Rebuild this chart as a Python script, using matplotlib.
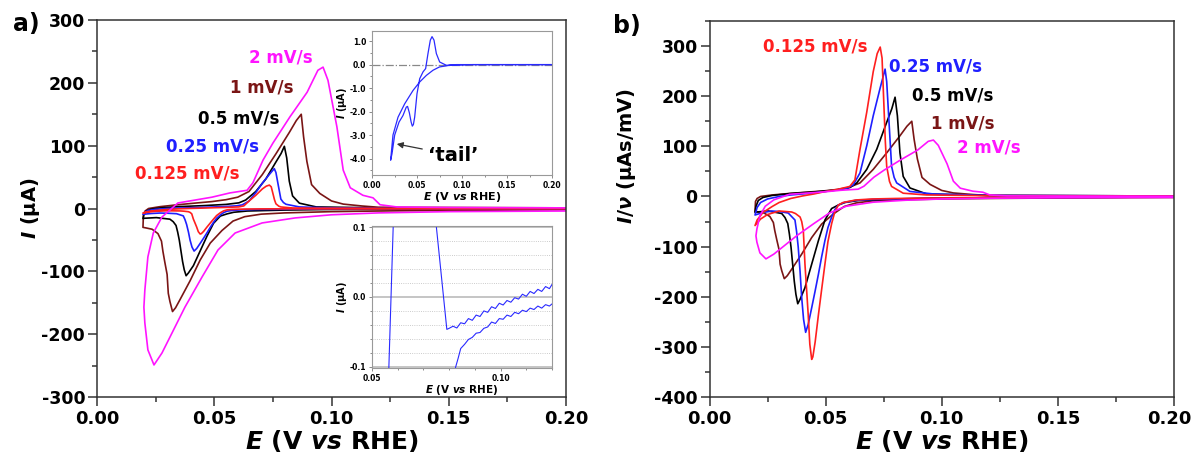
import matplotlib
matplotlib.use("Agg")
import matplotlib.pyplot as plt
import matplotlib.transforms as mtransforms
from matplotlib.ticker import MultipleLocator

plt.rcParams['font.family'] = 'DejaVu Sans'
plt.rcParams['font.weight'] = 'bold'
plt.rcParams['axes.labelweight'] = 'bold'
plt.rcParams['axes.unicode_minus'] = False
plt.rcParams['mathtext.fontset'] = 'custom'
plt.rcParams['mathtext.it'] = 'DejaVu Sans:bold:italic'
plt.rcParams['mathtext.rm'] = 'DejaVu Sans:bold'
plt.rcParams['mathtext.bf'] = 'DejaVu Sans:bold'

# scan rates (mV/s) and styling per sweep
RATES = [0.125, 0.25, 0.5, 1.0, 2.0]
LABELS = ["0.125 mV/s", "0.25 mV/s", "0.5 mV/s", "1 mV/s", "2 mV/s"]
COLORS = ["#ff1f1f", "#1f1fff", "#000000", "#7a1515", "#ff14ff"]

# potential (V vs RHE) and rate-normalised current I/v (uAs/mV)
E_0125 = [0.200, 0.150, 0.100, 0.080, 0.070, 0.063, 0.0575, 0.0555, 0.054, 0.0526, 0.051,
          0.0497, 0.0483, 0.0469, 0.0455, 0.0445, 0.0440, 0.0432, 0.0425, 0.0418, 0.0411,
          0.0404, 0.0397, 0.039, 0.037, 0.0354, 0.030, 0.025, 0.022, 0.0196,
          0.0205, 0.023, 0.027, 0.030, 0.035, 0.040, 0.045, 0.050, 0.055, 0.0604, 0.0626,
          0.0648, 0.0677, 0.0705, 0.0722, 0.0735, 0.0743, 0.0751, 0.0757, 0.0763, 0.0775,
          0.0784, 0.0834, 0.0935, 0.120, 0.200]
Q_0125 = [-1, -2, -3, -4, -5, -7, -12, -17, -30, -54, -90,
          -135, -185, -236, -290, -320, -325, -295, -236, -185, -135,
          -68, -50, -41, -34, -31, -29, -36, -45, -58,
          -47, -32, -20, -12, -4, 1, 5, 10, 14, 20, 33,
          94, 168, 249, 285, 298, 276, 181, 110, 60, 30,
          20, 6.5, 3, 1.5, 1]

E_025 = [0.200, 0.150, 0.100, 0.080, 0.070, 0.0626, 0.058, 0.0555, 0.054, 0.0526, 0.051,
         0.0497, 0.0483, 0.0469, 0.0455, 0.044, 0.0425, 0.0414, 0.0405, 0.0397, 0.039,
         0.0382, 0.0375, 0.0368, 0.0339, 0.030, 0.0268, 0.023, 0.0196,
         0.0205, 0.022, 0.025, 0.030, 0.035, 0.040, 0.045, 0.050, 0.055, 0.0595, 0.0619,
         0.0648, 0.0677, 0.0705, 0.0734, 0.0756, 0.0763, 0.0773, 0.0784, 0.0795, 0.0806,
         0.0863, 0.0964, 0.120, 0.200]
Q_025 = [-1, -2, -3, -5, -6, -8, -12, -17, -26, -41, -62,
         -88, -120, -155, -188, -222, -255, -271, -245, -202, -150,
         -101, -70, -47, -33, -30, -29, -32, -37,
         -22, -12, -5, 0, 3, 5, 7, 10, 13, 17, 23,
         47, 101, 161, 215, 254, 229, 148, 60, 38, 27,
         10, 5, 2, 1]

E_05 = [0.200, 0.150, 0.100, 0.080, 0.0641, 0.0583, 0.0555, 0.0526, 0.0497, 0.0469, 0.044,
        0.0411, 0.039, 0.038, 0.0372, 0.0365, 0.0351, 0.0344, 0.0337, 0.0325, 0.0311,
        0.0253, 0.0203, 0.0196,
        0.020, 0.021, 0.023, 0.027, 0.035, 0.045, 0.055, 0.0605, 0.0634, 0.0677, 0.072,
        0.0763, 0.0785, 0.0799, 0.0809, 0.082, 0.0834, 0.0863, 0.0935, 0.120, 0.200]
Q_05 = [-1, -2, -3, -5, -8, -12, -17, -24, -47, -88, -135,
        -182, -205, -214, -195, -169, -101, -75, -54, -42, -34,
        -29, -31, -32,
        -20, -8, -2, 2, 6, 9, 13, 18, 27, 54, 94,
        148, 175, 198, 161, 87, 40, 17, 5, 2, 1]

E_1 = [0.200, 0.150, 0.120, 0.100, 0.080, 0.070, 0.063, 0.058, 0.0533, 0.0483, 0.044,
       0.0397, 0.0354, 0.0335, 0.0322, 0.0311, 0.0304, 0.0299, 0.0289, 0.0281, 0.0275,
       0.026, 0.0235, 0.021, 0.0196,
       0.0198, 0.0205, 0.022, 0.027, 0.0345, 0.043, 0.049, 0.055, 0.060, 0.0648, 0.0705,
       0.0763, 0.082, 0.085, 0.0871, 0.0881, 0.0895, 0.0915, 0.095, 0.100, 0.105, 0.113,
       0.120, 0.200]
Q_1 = [-2, -3, -4, -5, -7, -9, -13, -20, -35, -55, -82,
       -115, -145, -158, -164, -148, -135, -105, -85, -68, -52,
       -40, -33, -31, -30,
       -10, -4, 0, 3, 6, 9, 11, 14, 18, 27, 54,
       87, 121, 140, 150, 114, 75, 38, 24, 12, 7, 4,
       2, 1]

E_2 = [0.200, 0.150, 0.120, 0.100, 0.0845, 0.0704, 0.0589, 0.0516, 0.0448, 0.0375, 0.032,
       0.0277, 0.0243, 0.0217, 0.0204, 0.0200,
       0.0204, 0.0217, 0.024, 0.0277, 0.0345, 0.049, 0.0567, 0.064, 0.0665, 0.0708, 0.075,
       0.0823, 0.0896, 0.0942, 0.0964, 0.0985, 0.1023, 0.105, 0.108, 0.1134, 0.1177,
       0.1207, 0.128, 0.150, 0.200]
Q_2 = [-2, -2.5, -3.5, -5, -7.5, -11.5, -19.5, -33, -54.5, -78.5, -99,
       -115, -124.5, -112.5, -91, -78.5,
       -65, -38.5, -19.5, -6.8, 4.4, 9, 12.4, 14.5, 20.5, 38.5, 52,
       73, 92.5, 110, 112.5, 102, 65, 30.5, 16.5, 10.5, 8.5,
       3, 1.2, 0.8, 0.5]

CURVES = [(E_0125, Q_0125), (E_025, Q_025), (E_05, Q_05), (E_1, Q_1), (E_2, Q_2)]

# single slow-scan CV shown in the upper inset (uA)
E_TAIL = [0.200, 0.150, 0.112, 0.0863, 0.075, 0.0678, 0.0604, 0.053, 0.0456, 0.0363, 0.0289,
          0.0233, 0.0207, 0.0222, 0.0252, 0.0300, 0.0344, 0.0381, 0.0395, 0.0415, 0.0435,
          0.0448, 0.046, 0.0474, 0.050, 0.053, 0.0567, 0.0596, 0.0622, 0.0648, 0.0667,
          0.0689, 0.0715, 0.0752, 0.0826, 0.094, 0.150, 0.200]
I_TAIL = [0.0, 0.0, 0.0, -0.03, -0.1, -0.24, -0.46, -0.74, -1.1, -1.67, -2.24,
          -3.0, -4.07, -3.8, -3.0, -2.45, -2.17, -1.81, -1.78, -2.05, -2.45,
          -2.62, -2.55, -2.24, -1.24, -0.6, -0.31, -0.17, 0.47, 1.04, 1.19,
          1.04, 0.47, 0.11, -0.03, 0.0, 0.0, 0.0]

# same CV magnified around zero current (uA)
E_ZOOM_UP = [0.0564, 0.0584, 0.0667, 0.0745, 0.0791, 0.080, 0.0815, 0.083, 0.0845, 0.086,
             0.0875, 0.089, 0.0905, 0.092, 0.0935, 0.095, 0.0965, 0.098, 0.0995, 0.101,
             0.1025, 0.104, 0.1055, 0.107, 0.1085, 0.110, 0.1115, 0.113, 0.1145, 0.116,
             0.1175, 0.119, 0.120]
I_ZOOM_UP = [-0.12, 0.12, 1.19, 0.12, -0.0465, -0.045, -0.042, -0.0445, -0.037, -0.0385,
             -0.031, -0.0335, -0.026, -0.028, -0.020, -0.022, -0.014, -0.0165, -0.009, -0.0115,
             -0.005, -0.0075, -0.001, -0.003, 0.004, 0.001, 0.008, 0.005, 0.011, 0.008,
             0.015, 0.012, 0.018]
E_ZOOM_DN = [0.0815, 0.0825, 0.0835, 0.0845, 0.086, 0.0875, 0.089, 0.0905, 0.092, 0.0935,
             0.095, 0.0965, 0.098, 0.0995, 0.101, 0.1025, 0.104, 0.1055, 0.107, 0.1085,
             0.110, 0.1115, 0.113, 0.1145, 0.116, 0.1175, 0.119, 0.120]
I_ZOOM_DN = [-0.12, -0.101, -0.088, -0.074, -0.068, -0.061, -0.058, -0.052, -0.051, -0.045,
             -0.043, -0.036, -0.038, -0.031, -0.032, -0.026, -0.028, -0.022, -0.024, -0.019,
             -0.021, -0.016, -0.018, -0.013, -0.016, -0.011, -0.013, -0.010]

W, H = 1193, 457
fig = plt.figure(figsize=(W / 100, H / 100), dpi=100)


def px_axes(x0, y0, x1, y1):
    # axes box given by pixel corners (top-left origin)
    return fig.add_axes([x0 / W, 1 - y1 / H, (x1 - x0) / W, (y1 - y0) / H])


def style_main(ax, ymin, ymax):
    ax.set_xlim(0, 0.2)
    ax.set_ylim(ymin, ymax)
    ax.xaxis.set_major_locator(MultipleLocator(0.05))
    ax.xaxis.set_minor_locator(MultipleLocator(0.025))
    ax.yaxis.set_major_locator(MultipleLocator(100))
    ax.yaxis.set_minor_locator(MultipleLocator(50))
    ax.xaxis.set_major_formatter(plt.FuncFormatter(lambda v, p: f"{v:.2f}"))
    ax.tick_params(which="both", direction="out", top=False, right=False, width=1.1, color="#333333")
    ax.tick_params(which="major", length=6.5)
    ax.tick_params(which="minor", length=3.5)
    ax.tick_params(axis="x", labelsize=13, pad=3)
    ax.tick_params(axis="y", labelsize=12.5, pad=2)
    for s in ax.spines.values():
        s.set_linewidth(1.1)
        s.set_color("#333333")
    ax.set_xlabel(r"$E$ (V $vs$ RHE)", fontsize=18, labelpad=0)


ax_a = px_axes(97, 20, 566, 397)
ax_b = px_axes(709.5, 21, 1174, 397)

order = [3, 2, 1, 0, 4]
for k in order:
    e, q = CURVES[k]
    ax_a.plot(e, [v * RATES[k] for v in q], color=COLORS[k], lw=1.2)
    ax_b.plot(e, q, color=COLORS[k], lw=1.2)

style_main(ax_a, -300, 300)
style_main(ax_b, -400, 350)
ax_a.set_ylabel(r"$I$ (µA)", fontsize=14)
ax_a.yaxis.set_label_coords(-0.117, 0.5)
ax_b.set_ylabel(r"$I/\nu$ (µAs/mV)", fontsize=14)
ax_b.yaxis.set_label_coords(-0.155, 0.64)

label_pos_a = [(0.0384, 56), (0.0493, 98), (0.0606, 144), (0.0704, 192), (0.0785, 241)]
label_pos_b = [(0.0456, 300), (0.0975, 260), (0.1048, 201), (0.109, 146), (0.1203, 98)]
for k in range(5):
    ax_a.text(*label_pos_a[k], LABELS[k], color=COLORS[k], fontsize=12, ha="center", va="center")
    ax_b.text(*label_pos_b[k], LABELS[k], color=COLORS[k], fontsize=12, ha="center", va="center")

fig.text(26 / W, 1 - 24 / H, "a)", fontsize=17, ha="center", va="center")
fig.text(627 / W, 1 - 26 / H, "b)", fontsize=17, ha="center", va="center")

# upper inset: full CV at low current
ins1 = px_axes(372, 31, 552, 175)
ins1.axhline(0, color="#888888", lw=0.9, ls="-.", zorder=1)
ins1.plot(E_TAIL, I_TAIL, color="#2a2aff", lw=0.9, zorder=2)
ins1.set_xlim(0, 0.2)
ins1.set_ylim(-4.7, 1.43)
ins1.xaxis.set_major_locator(MultipleLocator(0.05))
ins1.xaxis.set_minor_locator(MultipleLocator(0.025))
ins1.yaxis.set_major_locator(MultipleLocator(1.0))
ins1.yaxis.set_minor_locator(MultipleLocator(0.5))
ins1.xaxis.set_major_formatter(plt.FuncFormatter(lambda v, p: f"{v:.2f}"))
ins1.yaxis.set_major_formatter(plt.FuncFormatter(lambda v, p: f"{v:.1f}"))
ins1.tick_params(which="both", direction="out", labelsize=5.5, width=0.6, color="#777777", pad=1.5)
ins1.tick_params(which="major", length=2.5)
ins1.tick_params(which="minor", length=1.5)
for s in ins1.spines.values():
    s.set_color("#999999")
    s.set_linewidth(0.8)
ins1.set_xlabel(r"$E$ (V $vs$ RHE)", fontsize=8, labelpad=0.5)
ins1.set_ylabel(r"$I$ (µA)", fontsize=7, labelpad=1)
ins1.annotate("‘tail’", xy=(0.0275, -3.38), xytext=(0.09, -3.85), fontsize=14,
              ha="center", va="center",
              arrowprops=dict(arrowstyle="-|>", color="#333333", lw=0.9, mutation_scale=9,
                              shrinkA=2, shrinkB=0))

# lower inset: magnified view around zero current
ins2 = px_axes(372, 226, 552, 368)
ins2.plot(E_ZOOM_UP, I_ZOOM_UP, color="#2a2aff", lw=0.8)
ins2.plot(E_ZOOM_DN, I_ZOOM_DN, color="#2a2aff", lw=0.8)
ins2.set_xlim(0.05, 0.12)
ins2.set_ylim(-0.102, 0.102)
ins2.xaxis.set_major_locator(MultipleLocator(0.05))
ins2.xaxis.set_minor_locator(MultipleLocator(0.01))
ins2.yaxis.set_major_locator(MultipleLocator(0.1))
ins2.yaxis.set_minor_locator(MultipleLocator(0.02))
ins2.xaxis.set_major_formatter(plt.FuncFormatter(lambda v, p: f"{v:.2f}"))
ins2.yaxis.set_major_formatter(plt.FuncFormatter(lambda v, p: f"{v:.1f}"))
ins2.grid(axis="y", which="major", color="#bbbbbb", lw=1.2)
ins2.grid(axis="y", which="minor", color="#bbbbbb", lw=0.6, ls=":")
ins2.set_axisbelow(True)
ins2.tick_params(which="both", direction="out", labelsize=5.5, width=0.6, color="#777777", pad=1.5)
ins2.tick_params(which="major", length=2.5)
ins2.tick_params(which="minor", length=1.5)
for s in ins2.spines.values():
    s.set_color("#999999")
    s.set_linewidth(0.8)
ins2.set_xlabel(r"$E$ (V $vs$ RHE)", fontsize=7.5, labelpad=0.5)
ins2.set_ylabel(r"$I$ (µA)", fontsize=7, labelpad=1)

# pull the 0.20 label of the right panel back inside the canvas
fig.canvas.draw()
shift = mtransforms.ScaledTranslation(-0.045, 0, fig.dpi_scale_trans)
for tick in ax_b.xaxis.get_major_ticks():
    if abs(tick.get_loc() - 0.2) < 1e-9:
        tick.label1.set_transform(tick.label1.get_transform() + shift)

fig.savefig("out.png", dpi=100)
